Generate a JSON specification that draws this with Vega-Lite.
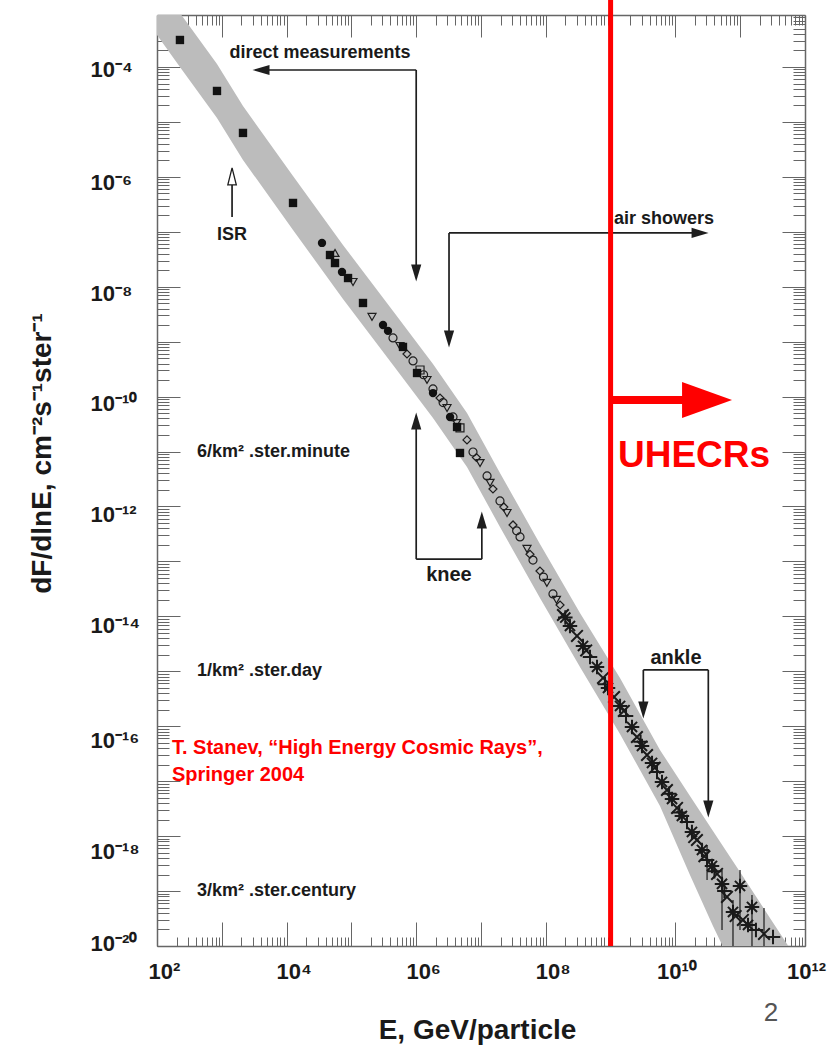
{
"$schema": "https://vega.github.io/schema/vega-lite/v6.json",
"width": 648, "height": 931,
"autosize": {"type": "none"},
"padding": {"left": 157, "top": 15, "right": 33, "bottom": 99},
"background": "white",
"config": {"view": {"stroke": null}, "font": "Liberation Sans",
  "axis": {"domainColor": "#666666", "tickColor": "#666666", "domainWidth": 1.5, "tickWidth": 1, "labelFont": "Liberation Sans", "titleFont": "Liberation Sans", "grid": false}},
"datasets": {
"band": [
{"E":45.7,"Fhi":1.291e-2,"Flo":1.346e-3},
{"E":100,"Fhi":3.673e-3,"Flo":3.82e-4},
{"E":226,"Fhi":9.62e-4,"Flo":1e-4},
{"E":843,"Fhi":1.135e-4,"Flo":1.18e-5},
{"E":2123,"Fhi":1.95e-5,"Flo":2.03e-6},
{"E":12560,"Fhi":1.037e-6,"Flo":1.079e-7},
{"E":74130,"Fhi":5.75e-8,"Flo":5.98e-9},
{"E":438500,"Fhi":3.62e-9,"Flo":3.77e-10},
{"E":1.816e6,"Fhi":3.93e-10,"Flo":4.08e-11},
{"E":6.08e6,"Fhi":5.04e-11,"Flo":5.24e-12},
{"E":1.963e7,"Fhi":4.07e-12,"Flo":4.24e-13},
{"E":8.13e7,"Fhi":2.08e-13,"Flo":2.16e-14},
{"E":3.37e8,"Fhi":1.153e-14,"Flo":1.2e-15},
{"E":1.396e9,"Fhi":7.57e-16,"Flo":7.24e-17},
{"E":5.78e9,"Fhi":3.7e-17,"Flo":3.54e-18},
{"E":1.679e10,"Fhi":5.38e-18,"Flo":1.963e-19},
{"E":3.8e10,"Fhi":1.24e-18,"Flo":2.32e-20},
{"E":9.93e10,"Fhi":2.23e-19,"Flo":2.22e-21},
{"E":2.88e11,"Fhi":3.24e-20,"Flo":1.95e-22},
{"E":8.38e11,"Fhi":4.71e-21,"Flo":1.58e-23}
],
"filled": [
{"E":226,"F":3.10e-4,"s":"square"},
{"E":843,"F":3.66e-5,"s":"square"},
{"E":2123,"F":6.30e-6,"s":"square"},
{"E":12560,"F":3.35e-7,"s":"square"},
{"E":46770,"F":3.78e-8,"s":"square"},
{"E":55850,"F":2.70e-8,"s":"square"},
{"E":88720,"F":1.44e-8,"s":"square"},
{"E":151000,"F":5.06e-9,"s":"square"},
{"E":625000,"F":8.02e-10,"s":"square"},
{"E":1.03e6,"F":2.69e-10,"s":"square"},
{"E":4.27e6,"F":2.80e-11,"s":"square"},
{"E":4.74e6,"F":9.42e-12,"s":"square"},
{"E":35160,"F":6.27e-8,"s":"circle"},
{"E":71610,"F":1.86e-8,"s":"circle"},
{"E":307600,"F":2.01e-9,"s":"circle"},
{"E":367300,"F":1.57e-9,"s":"circle"},
{"E":1.816e6,"F":1.16e-10,"s":"circle"},
{"E":3.33e6,"F":4.26e-11,"s":"circle"}
],
"open": [
{"E":55850,"F":4.11e-8,"s":"triangle-up"},
{"E":105900,"F":1.22e-8,"s":"triangle-down"},
{"E":208000,"F":2.82e-9,"s":"triangle-down"},
{"E":4.385e5,"F":1.17e-9,"s":"circle"},
{"E":5.62e5,"F":8.36e-10,"s":"triangle-down"},
{"E":7.21e5,"F":5.97e-10,"s":"diamond"},
{"E":8.93e5,"F":4.46e-10,"s":"circle"},
{"E":1.146e6,"F":3.05e-10,"s":"square"},
{"E":1.3e6,"F":2.5e-10,"s":"circle"},
{"E":1.469e6,"F":2.01e-10,"s":"triangle-down"},
{"E":1.816e6,"F":1.38e-10,"s":"circle"},
{"E":2.33e6,"F":9.44e-11,"s":"diamond"},
{"E":2.6e6,"F":7.8e-11,"s":"circle"},
{"E":2.99e6,"F":6.21e-11,"s":"triangle-down"},
{"E":3.7e6,"F":4.26e-11,"s":"circle"},
{"E":4.2e6,"F":3.3e-11,"s":"triangle-down"},
{"E":4.74e6,"F":2.69e-11,"s":"square"},
{"E":6.08e6,"F":1.63e-11,"s":"diamond"},
{"E":7.53e6,"F":9.82e-12,"s":"circle"},
{"E":8.5e6,"F":7.8e-12,"s":"diamond"},
{"E":9.66e6,"F":6.19e-12,"s":"triangle-down"},
{"E":1.24e7,"F":3.6e-12,"s":"circle"},
{"E":1.38e7,"F":2.7e-12,"s":"triangle-down"},
{"E":1.53e7,"F":2.08e-12,"s":"diamond"},
{"E":1.963e7,"F":1.26e-12,"s":"circle"},
{"E":2.25e7,"F":9.8e-13,"s":"diamond"},
{"E":2.52e7,"F":7.62e-13,"s":"triangle-down"},
{"E":3.12e7,"F":4.61e-13,"s":"diamond"},
{"E":3.55e7,"F":3.6e-13,"s":"circle"},
{"E":4.0e7,"F":2.79e-13,"s":"circle"},
{"E":5.13e7,"F":1.69e-13,"s":"triangle-down"},
{"E":5.7e7,"F":1.35e-13,"s":"diamond"},
{"E":6.34e7,"F":1.06e-13,"s":"circle"},
{"E":8.13e7,"F":6.7e-14,"s":"diamond"},
{"E":9.2e7,"F":5.2e-14,"s":"circle"},
{"E":1.04e8,"F":4.06e-14,"s":"triangle-down"},
{"E":1.29e8,"F":2.56e-14,"s":"circle"},
{"E":1.46e8,"F":2.0e-14,"s":"triangle-down"},
{"E":1.66e8,"F":1.61e-14,"s":"diamond"}
],
"stars": [
{"E":1.84e8,"F":1.06e-14,"s":"x"},
{"E":2.0e8,"F":9.5e-15,"s":"ast"},
{"E":2.36e8,"F":6.68e-15,"s":"ast"},
{"E":3.03e8,"F":4.4e-15,"s":"x"},
{"E":3.75e8,"F":2.89e-15,"s":"ast"},
{"E":4.2e8,"F":2.4e-15,"s":"x"},
{"E":4.81e8,"F":1.82e-15,"s":"plus"},
{"E":6.17e8,"F":1.2e-15,"s":"ast"},
{"E":7.64e8,"F":7.57e-16,"s":"x"},
{"E":8.2e8,"F":5.8e-16,"s":"plus"},
{"E":9.12e8,"F":4.98e-16,"s":"ast"},
{"E":1.13e9,"F":3.41e-16,"s":"x"},
{"E":1.4e9,"F":2.34e-16,"s":"ast"},
{"E":1.6e9,"F":1.9e-16,"s":"x"},
{"E":1.73e9,"F":1.54e-16,"s":"plus"},
{"E":2.14e9,"F":9.7e-17,"s":"ast"},
{"E":2.55e9,"F":6.38e-17,"s":"x"},
{"E":2.9e9,"F":5.2e-17,"s":"plus"},
{"E":3.05e9,"F":4.38e-17,"s":"ast"},
{"E":3.65e9,"F":3.0e-17,"s":"x"},
{"E":4.36e9,"F":2.15e-17,"s":"ast"},
{"E":4.8e9,"F":1.75e-17,"s":"x"},
{"E":5.2e9,"F":1.47e-17,"s":"plus"},
{"E":6.21e9,"F":9.68e-18,"s":"ast"},
{"E":7.41e9,"F":6.92e-18,"s":"x"},
{"E":8.0e9,"F":5.9e-18,"s":"plus"},
{"E":8.87e9,"F":4.74e-18,"s":"ast"},
{"E":1.06e10,"F":3.26e-18,"s":"x"},
{"E":1.15e10,"F":2.7e-18,"s":"plus"},
{"E":1.26e10,"F":2.33e-18,"s":"ast"},
{"E":1.51e10,"F":1.81e-18,"s":"plus"},
{"E":1.8e10,"F":1.19e-18,"s":"ast"},
{"E":1.95e10,"F":9.6e-19,"s":"x"},
{"E":2.15e10,"F":8.51e-19,"s":"x"},
{"E":2.57e10,"F":5.6e-19,"s":"ast"},
{"E":2.8e10,"F":4.3e-19,"s":"x"},
{"E":3.08e10,"F":3.68e-19,"s":"plus"},
{"E":3.67e10,"F":2.86e-19,"s":"ast"},
{"E":4.0e10,"F":2.3e-19,"s":"plus"},
{"E":4.39e10,"F":2.05e-19,"s":"x"},
{"E":5.24e10,"F":1.35e-19,"s":"ast"},
{"E":5.7e10,"F":1.0e-19,"s":"plus"},
{"E":6.25e10,"F":7.81e-20,"s":"x"},
{"E":7.74e10,"F":4.17e-20,"s":"ast"},
{"E":8.5e10,"F":3.5e-20,"s":"x"},
{"E":9.93e10,"F":1.24e-19,"s":"ast"},
{"E":1.1e11,"F":2.98e-20,"s":"x"},
{"E":1.32e11,"F":2.42e-20,"s":"ast"},
{"E":1.52e11,"F":5.14e-20,"s":"ast"},
{"E":1.75e11,"F":1.96e-20,"s":"plus"},
{"E":2.33e11,"F":1.66e-20,"s":"x"},
{"E":3.21e11,"F":1.46e-20,"s":"plus"}
],
"errs": [
{"E":9.93e10,"F":2.42e-19,"F2":1.96e-20},
{"E":2.33e11,"F":4.93e-20,"F2":1e-20},
{"E":1.52e11,"F":8.49e-20,"F2":1e-20},
{"E":5.24e10,"F":2.42e-19,"F2":1.96e-20},
{"E":3.08e10,"F":6.9e-19,"F2":1.59e-19},
{"E":7.74e10,"F":6.89e-20,"F2":1e-20}
],
"brackets": [
{"E":4030,"E2":1e6,"F":8.81e-5,"F2":8.81e-5},
{"E":1e6,"E2":1e6,"F":8.81e-5,"F2":1.78e-8},
{"E":3.21e6,"E2":2.4e10,"F":9.53e-8,"F2":9.53e-8},
{"E":3.21e6,"E2":3.21e6,"F":9.53e-8,"F2":1.12e-9},
{"E":1e6,"E2":1e6,"F":1.1e-13,"F2":3.61e-11},
{"E":1.03e7,"E2":1.03e7,"F":1.1e-13,"F2":5.69e-13},
{"E":1e6,"E2":1.03e7,"F":1.1e-13,"F2":1.1e-13},
{"E":3.2e9,"E2":3.22e10,"F":1.06e-15,"F2":1.06e-15},
{"E":3.2e9,"E2":3.2e9,"F":1.06e-15,"F2":1.98e-16},
{"E":3.22e10,"E2":3.22e10,"F":1.06e-15,"F2":3.13e-18},
{"E":1440,"E2":1440,"F":7.11e-7,"F2":1.86e-7}
],
"heads": [
{"E":4030,"F":8.81e-5,"d":"left"},
{"E":1e6,"F":1.78e-8,"d":"down"},
{"E":2.4e10,"F":9.53e-8,"d":"right"},
{"E":3.21e6,"F":1.12e-9,"d":"down"},
{"E":1e6,"F":3.61e-11,"d":"up"},
{"E":1.03e7,"F":5.69e-13,"d":"up"},
{"E":3.2e9,"F":1.98e-16,"d":"down"},
{"E":3.22e10,"F":3.13e-18,"d":"down"}
],
"isrhead": [{"E":1440,"F":1.02e-6}],
"labels18": [
{"E":32700,"F":1.8e-4,"label":"direct measurements"},
{"E":6.67e9,"F":1.71e-7,"label":"air showers"},
{"E":1440,"F":8.75e-8,"label":"ISR"}
],
"labels20": [
{"E":3.2e6,"F":5.67e-14,"label":"knee"},
{"E":1.02e10,"F":1.75e-15,"label":"ankle"}
],
"fluxlabels": [
{"E":414,"F":1e-11,"label":"6/km² .ster.minute"},
{"E":414,"F":1e-15,"label":"1/km² .ster.day"},
{"E":414,"F":1e-19,"label":"3/km² .ster.century"}
],
"cite": [
{"E":170,"F":4.03e-17,"label":"T. Stanev, “High Energy Cosmic Rays”,"},
{"E":170,"F":1.3e-17,"label":"Springer 2004"}
],
"uhecr": [{"E":1.94e10,"F":5.24e-12,"label":"UHECRs"}],
"page": [{"E":2.99e11,"F":6.04e-22,"label":"2"}],
"redline": [{"E":1e9,"F":2e-3,"F2":1e-20}],
"redshaft": [{"E":1e9,"E2":1.41e10,"F":8.69e-11,"F2":8.69e-11}],
"redhead": [{"E":3.08e10,"F":8.69e-11}]
},
"resolve": {"axis": {"x": "independent", "y": "independent"}, "scale": {"shape": "independent"}},
"encoding": {
  "x": {"field": "E", "type": "quantitative", "scale": {"type": "log", "domain": [100, 1e12], "nice": false}, "axis": null},
  "y": {"field": "F", "type": "quantitative", "scale": {"type": "log", "domain": [1e-20, 8.83e-4], "nice": false}, "axis": null}
},
"layer": [
{
 "data": {"name": "band"},
 "mark": {"type": "area", "clip": true, "color": "#bcbcbc", "opacity": 1},
 "encoding": {
  "x": {"field": "E", "type": "quantitative", "scale": {"type": "log", "domain": [100, 1e12], "nice": false},
   "axis": {"orient": "bottom",
    "values": [1e2,2e2,3e2,4e2,5e2,6e2,7e2,8e2,9e2,1e3,2e3,3e3,4e3,5e3,6e3,7e3,8e3,9e3,1e4,2e4,3e4,4e4,5e4,6e4,7e4,8e4,9e4,1e5,2e5,3e5,4e5,5e5,6e5,7e5,8e5,9e5,1e6,2e6,3e6,4e6,5e6,6e6,7e6,8e6,9e6,1e7,2e7,3e7,4e7,5e7,6e7,7e7,8e7,9e7,1e8,2e8,3e8,4e8,5e8,6e8,7e8,8e8,9e8,1e9,2e9,3e9,4e9,5e9,6e9,7e9,8e9,9e9,1e10,2e10,3e10,4e10,5e10,6e10,7e10,8e10,9e10,1e11,2e11,3e11,4e11,5e11,6e11,7e11,8e11,9e11,1e12],
    "tickSize": {"condition": {"test": "abs(log(datum.value)/LN10 - round(log(datum.value)/LN10)) < 0.001", "value": -24}, "value": -9},
    "labelExpr": "datum.value == 1e2 ? '10²' : datum.value == 1e4 ? '10⁴' : datum.value == 1e6 ? '10⁶' : datum.value == 1e8 ? '10⁸' : datum.value == 1e10 ? '10¹⁰' : datum.value == 1e12 ? '10¹²' : ''",
    "labelFontSize": 22, "labelFontWeight": "bold", "labelColor": "#1a1a1a",
    "labelBaseline": "alphabetic", "labelPadding": 56, "labelFlush": false, "labelOverlap": false, "labelBound": false,
    "labelOffset": {"condition": {"test": "datum.value >= 1e10", "value": 1}, "value": 7},
    "title": "E, GeV/particle", "titleFontSize": 28, "titleFontWeight": "bold", "titleColor": "#1a1a1a",
    "titleX": 320, "titleY": 92, "titleBaseline": "alphabetic", "titleAlign": "center"}},
  "y": {"field": "Fhi", "type": "quantitative", "scale": {"type": "log", "domain": [1e-20, 8.83e-4], "nice": false},
   "axis": {"orient": "left",
    "values": [1e-20,2e-20,3e-20,4e-20,5e-20,6e-20,7e-20,8e-20,9e-20,1e-19,2e-19,3e-19,4e-19,5e-19,6e-19,7e-19,8e-19,9e-19,1e-18,2e-18,3e-18,4e-18,5e-18,6e-18,7e-18,8e-18,9e-18,1e-17,2e-17,3e-17,4e-17,5e-17,6e-17,7e-17,8e-17,9e-17,1e-16,2e-16,3e-16,4e-16,5e-16,6e-16,7e-16,8e-16,9e-16,1e-15,2e-15,3e-15,4e-15,5e-15,6e-15,7e-15,8e-15,9e-15,1e-14,2e-14,3e-14,4e-14,5e-14,6e-14,7e-14,8e-14,9e-14,1e-13,2e-13,3e-13,4e-13,5e-13,6e-13,7e-13,8e-13,9e-13,1e-12,2e-12,3e-12,4e-12,5e-12,6e-12,7e-12,8e-12,9e-12,1e-11,2e-11,3e-11,4e-11,5e-11,6e-11,7e-11,8e-11,9e-11,1e-10,2e-10,3e-10,4e-10,5e-10,6e-10,7e-10,8e-10,9e-10,1e-9,2e-9,3e-9,4e-9,5e-9,6e-9,7e-9,8e-9,9e-9,1e-8,2e-8,3e-8,4e-8,5e-8,6e-8,7e-8,8e-8,9e-8,1e-7,2e-7,3e-7,4e-7,5e-7,6e-7,7e-7,8e-7,9e-7,1e-6,2e-6,3e-6,4e-6,5e-6,6e-6,7e-6,8e-6,9e-6,1e-5,2e-5,3e-5,4e-5,5e-5,6e-5,7e-5,8e-5,9e-5,1e-4,2e-4,3e-4,4e-4,5e-4,6e-4,7e-4,8e-4],
    "tickSize": {"condition": {"test": "abs(log(datum.value)/LN10 - round(log(datum.value)/LN10)) < 0.001", "value": -23}, "value": -12},
    "labelExpr": "datum.value == 1e-4 ? '10⁻⁴' : datum.value == 1e-6 ? '10⁻⁶' : datum.value == 1e-8 ? '10⁻⁸' : datum.value == 1e-10 ? '10⁻¹⁰' : datum.value == 1e-12 ? '10⁻¹²' : datum.value == 1e-14 ? '10⁻¹⁴' : datum.value == 1e-16 ? '10⁻¹⁶' : datum.value == 1e-18 ? '10⁻¹⁸' : datum.value == 1e-20 ? '10⁻²⁰' : ''",
    "labelFontSize": 22, "labelFontWeight": "bold", "labelColor": "#1a1a1a",
    "labelAlign": "left", "labelBaseline": "middle", "labelPadding": 90, "labelOverlap": false, "labelBound": false, "labelFlush": false,
    "labelOffset": {"condition": [
      {"test": "datum.value == 1e-6", "value": 6},
      {"test": "datum.value == 1e-8", "value": 7},
      {"test": "datum.value == 1e-10", "value": 7},
      {"test": "datum.value == 1e-12", "value": 8},
      {"test": "datum.value == 1e-14", "value": 9},
      {"test": "datum.value == 1e-16", "value": 14},
      {"test": "datum.value == 1e-18", "value": 15},
      {"test": "datum.value == 1e-20", "value": -3}
    ], "value": 3},
    "title": "dF/dlnE, cm⁻²s⁻¹ster⁻¹", "titleFontSize": 28, "titleFontWeight": "bold", "titleColor": "#1a1a1a",
    "titleX": -107, "titleY": 438, "titleBaseline": "alphabetic", "titleAlign": "center", "titleAngle": -90}},
  "y2": {"field": "Flo"}
 }
},
{
 "data": {"name": "open"},
 "mark": {"type": "point", "filled": false, "stroke": "#1e1e1e", "strokeWidth": 1.2, "size": 64, "opacity": 1},
 "encoding": {
  "x": {"field": "E", "type": "quantitative", "scale": {"type": "log", "domain": [100, 1e12], "nice": false},
   "axis": {"orient": "top", "labels": false, "title": null,
    "values": [1e2,2e2,3e2,4e2,5e2,6e2,7e2,8e2,9e2,1e3,2e3,3e3,4e3,5e3,6e3,7e3,8e3,9e3,1e4,2e4,3e4,4e4,5e4,6e4,7e4,8e4,9e4,1e5,2e5,3e5,4e5,5e5,6e5,7e5,8e5,9e5,1e6,2e6,3e6,4e6,5e6,6e6,7e6,8e6,9e6,1e7,2e7,3e7,4e7,5e7,6e7,7e7,8e7,9e7,1e8,2e8,3e8,4e8,5e8,6e8,7e8,8e8,9e8,1e9,2e9,3e9,4e9,5e9,6e9,7e9,8e9,9e9,1e10,2e10,3e10,4e10,5e10,6e10,7e10,8e10,9e10,1e11,2e11,3e11,4e11,5e11,6e11,7e11,8e11,9e11,1e12],
    "tickSize": {"condition": {"test": "abs(log(datum.value)/LN10 - round(log(datum.value)/LN10)) < 0.001", "value": -22}, "value": -10}}},
  "y": {"field": "F", "type": "quantitative", "scale": {"type": "log", "domain": [1e-20, 8.83e-4], "nice": false},
   "axis": {"orient": "right", "labels": false, "title": null,
    "values": [1e-20,2e-20,3e-20,4e-20,5e-20,6e-20,7e-20,8e-20,9e-20,1e-19,2e-19,3e-19,4e-19,5e-19,6e-19,7e-19,8e-19,9e-19,1e-18,2e-18,3e-18,4e-18,5e-18,6e-18,7e-18,8e-18,9e-18,1e-17,2e-17,3e-17,4e-17,5e-17,6e-17,7e-17,8e-17,9e-17,1e-16,2e-16,3e-16,4e-16,5e-16,6e-16,7e-16,8e-16,9e-16,1e-15,2e-15,3e-15,4e-15,5e-15,6e-15,7e-15,8e-15,9e-15,1e-14,2e-14,3e-14,4e-14,5e-14,6e-14,7e-14,8e-14,9e-14,1e-13,2e-13,3e-13,4e-13,5e-13,6e-13,7e-13,8e-13,9e-13,1e-12,2e-12,3e-12,4e-12,5e-12,6e-12,7e-12,8e-12,9e-12,1e-11,2e-11,3e-11,4e-11,5e-11,6e-11,7e-11,8e-11,9e-11,1e-10,2e-10,3e-10,4e-10,5e-10,6e-10,7e-10,8e-10,9e-10,1e-9,2e-9,3e-9,4e-9,5e-9,6e-9,7e-9,8e-9,9e-9,1e-8,2e-8,3e-8,4e-8,5e-8,6e-8,7e-8,8e-8,9e-8,1e-7,2e-7,3e-7,4e-7,5e-7,6e-7,7e-7,8e-7,9e-7,1e-6,2e-6,3e-6,4e-6,5e-6,6e-6,7e-6,8e-6,9e-6,1e-5,2e-5,3e-5,4e-5,5e-5,6e-5,7e-5,8e-5,9e-5,1e-4,2e-4,3e-4,4e-4,5e-4,6e-4,7e-4,8e-4],
    "tickSize": {"condition": {"test": "abs(log(datum.value)/LN10 - round(log(datum.value)/LN10)) < 0.001", "value": -23}, "value": -12}}},
  "shape": {"field": "s", "type": "nominal", "scale": {"domain": ["circle","triangle-down","triangle-up","diamond","square"], "range": ["circle","triangle-down","triangle-up","diamond","square"]}, "legend": null}
 }
},
{
 "data": {"name": "filled"},
 "mark": {"type": "point", "filled": true, "color": "#111111", "size": 70, "opacity": 1},
 "encoding": {
  "shape": {"field": "s", "type": "nominal", "scale": {"domain": ["square","circle"], "range": ["square","circle"]}, "legend": null}
 }
},
{
 "data": {"name": "stars"},
 "mark": {"type": "point", "filled": false, "stroke": "#1a1a1a", "strokeWidth": 2, "size": 210, "opacity": 1},
 "encoding": {
  "shape": {"field": "s", "type": "nominal", "scale": {"domain": ["ast","x","plus"], "range": ["M-1,0L1,0M0,-1L0,1M-0.7,-0.7L0.7,0.7M-0.7,0.7L0.7,-0.7", "M-0.8,-0.8L0.8,0.8M-0.8,0.8L0.8,-0.8", "M-1,0L1,0M0,-1L0,1"]}, "legend": null}
 }
},
{
 "data": {"name": "errs"},
 "mark": {"type": "rule", "color": "#1a1a1a", "strokeWidth": 1.2},
 "encoding": {"y2": {"field": "F2"}}
},
{
 "data": {"name": "brackets"},
 "mark": {"type": "rule", "color": "#1e1e1e", "strokeWidth": 1.7},
 "encoding": {"x2": {"field": "E2"}, "y2": {"field": "F2"}}
},
{
 "data": {"name": "heads"},
 "mark": {"type": "point", "filled": true, "color": "#1e1e1e", "size": 289, "opacity": 1},
 "encoding": {
  "shape": {"field": "d", "type": "nominal", "scale": {"domain": ["left","right","up","down"], "range": ["M-1,0L1,-0.6L1,0.6Z", "M1,0L-1,-0.6L-1,0.6Z", "M0,-1L-0.6,1L0.6,1Z", "M0,1L-0.6,-1L0.6,-1Z"]}, "legend": null}
 }
},
{
 "data": {"name": "isrhead"},
 "mark": {"type": "point", "shape": "M0,-1L0.5,1L-0.5,1Z", "filled": true, "fill": "white", "stroke": "#1e1e1e", "strokeWidth": 1.3, "size": 289, "opacity": 1}
},
{
 "data": {"name": "labels18"},
 "mark": {"type": "text", "font": "Liberation Sans", "fontWeight": "bold", "fontSize": 18, "align": "center", "baseline": "middle", "color": "#1a1a1a"},
 "encoding": {"text": {"field": "label"}}
},
{
 "data": {"name": "labels20"},
 "mark": {"type": "text", "font": "Liberation Sans", "fontWeight": "bold", "fontSize": 20, "align": "center", "baseline": "middle", "color": "#1a1a1a"},
 "encoding": {"text": {"field": "label"}}
},
{
 "data": {"name": "fluxlabels"},
 "mark": {"type": "text", "font": "Liberation Sans", "fontWeight": "bold", "fontSize": 18, "align": "left", "baseline": "middle", "color": "#1a1a1a"},
 "encoding": {"text": {"field": "label"}}
},
{
 "data": {"name": "cite"},
 "mark": {"type": "text", "font": "Liberation Sans", "fontWeight": "bold", "fontSize": 20, "align": "left", "baseline": "middle", "color": "#ff0000"},
 "encoding": {"text": {"field": "label"}}
},
{
 "data": {"name": "uhecr"},
 "mark": {"type": "text", "font": "Liberation Sans", "fontWeight": "bold", "fontSize": 37, "align": "center", "baseline": "alphabetic", "color": "#ff0000"},
 "encoding": {"text": {"field": "label"}}
},
{
 "data": {"name": "page"},
 "mark": {"type": "text", "font": "Liberation Sans", "fontSize": 26, "align": "center", "baseline": "middle", "color": "#555555"},
 "encoding": {"text": {"field": "label"}}
},
{
 "data": {"name": "redline"},
 "mark": {"type": "rule", "color": "#ff0000", "strokeWidth": 5},
 "encoding": {"y2": {"field": "F2"}}
},
{
 "data": {"name": "redshaft"},
 "mark": {"type": "rule", "color": "#ff0000", "strokeWidth": 8},
 "encoding": {"x2": {"field": "E2"}, "y2": {"field": "F2"}}
},
{
 "data": {"name": "redhead"},
 "mark": {"type": "point", "shape": "M1,0L-1,-0.72L-1,0.72Z", "filled": true, "color": "#ff0000", "size": 2500, "opacity": 1}
}
]
}
